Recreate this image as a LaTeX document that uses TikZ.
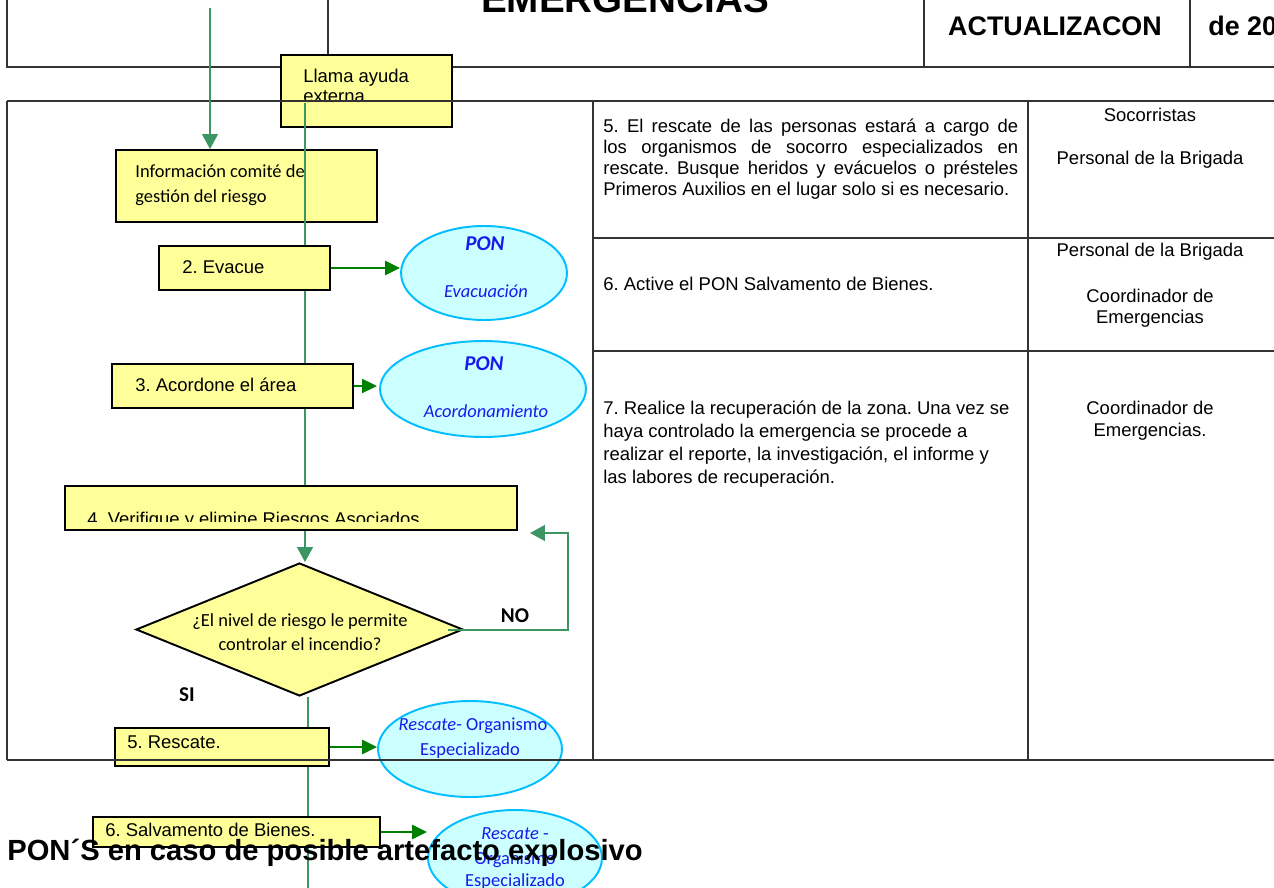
\documentclass[tikz,border=0pt]{standalone}
\usepackage{fontspec}
\setmainfont{Liberation Sans}
\newfontfamily\calib{Carlito}
\usepackage{tikz}
\usetikzlibrary{shapes.geometric,arrows.meta,fit,calc}
\definecolor{boxyellow}{RGB}{255,255,153}
\definecolor{poncyan}{RGB}{204,255,255}
\definecolor{ponedge}{RGB}{0,190,255}
\definecolor{ponblue}{RGB}{25,25,235}
\definecolor{linegreen}{RGB}{60,150,100}
\definecolor{arrgreen}{RGB}{0,128,0}
\frenchspacing

\begin{document}
\begin{tikzpicture}[x=0.02cm,y=-0.02cm,
 tabline/.style={draw=black!80,line width=0.8pt},
 stepbox/.style={draw=black,line width=1.1pt,fill=boxyellow,inner sep=0pt},
 ponell/.style={ellipse,draw=ponedge,line width=1.1pt,fill=poncyan,inner sep=0pt},
 decision/.style={diamond,draw=black,line width=1.1pt,fill=boxyellow,inner sep=0pt},
 mainline/.style={draw=linegreen,line width=1pt},
 flow/.style={mainline,-{Triangle[length=8.5pt,width=9pt]}},
 ponarrow/.style={draw=arrgreen,line width=1.2pt,-{Triangle[length=8.5pt,width=8pt]}},
 boxtxt/.style={anchor=base west,inner sep=0pt,align=flush left,font=\fontsize{10.5}{11.3}\selectfont},
 caltxt/.style={inner sep=0pt,font=\calib\fontsize{10.5}{14.2}\selectfont},
 pontxt/.style={anchor=base,inner sep=0pt,text=ponblue,font=\calib\fontsize{10.5}{12}\selectfont},
 ponbold/.style={pontxt,font=\calib\bfseries\itshape\fontsize{12}{14}\selectfont},
 ponit/.style={pontxt,font=\calib\itshape\fontsize{10.5}{12}\selectfont},
 celltxt/.style={anchor=base west,inner sep=0pt,font=\fontsize{10.5}{11.9}\selectfont},
 roletxt/.style={anchor=base,inner sep=0pt,text width=4.8cm,align=flush center,font=\fontsize{10.5}{11.9}\selectfont}]
\clip (0,0) rectangle (1274,888);

% encabezado
\draw[tabline] (7,0) -- (7,67) -- (1274,67);
\draw[tabline] (328,0) -- (328,67) (924,0) -- (924,67) (1190,0) -- (1190,67);
\node[anchor=base,inner sep=0pt,font=\bfseries\fontsize{22}{24}\selectfont] (titulo) at (625,13) {EMERGENCIAS};
\node[anchor=base,inner sep=0pt,font=\bfseries\fontsize{15.3}{17}\selectfont] (actu) at (1055,36) {ACTUALIZACON};
\node[anchor=base west,inner sep=0pt,font=\bfseries\fontsize{15.3}{17}\selectfont] (fecha) at (1208,36) {de 20};

\node[stepbox,fit={(281,55) (452,127)}] (llama) {};
\node[boxtxt,text width=3cm] (llamatxt) at (303,82.5) {Llama ayuda\\externa};

% tabla
\draw[tabline] (7,101) -- (1274,101);
\draw[tabline] (7,101) -- (7,760);
\draw[tabline] (593,101) -- (593,760) (1028,101) -- (1028,760);
\draw[tabline] (593,238) -- (1274,238) (593,351) -- (1274,351);

\node[celltxt,text width=8.3cm,align=justify] (paso5) at (603,132.5)
 {5. El rescate de las personas estará a cargo de\linebreak los organismos de socorro especializados en\linebreak rescate. Busque heridos y evácuelos o présteles\linebreak Primeros Auxilios en el lugar solo si es necesario.};
\node[celltxt] (paso6) at (603,290.5) {6. Active el PON Salvamento de Bienes.};
\node[celltxt,text width=8.3cm,align=flush left,font=\fontsize{10.5}{13}\selectfont] (paso7) at (603,414.5)
 {\mbox{7. Realice la recuperación de la zona. Una vez se}\\haya controlado la emergencia se procede a\\realizar el reporte, la investigación, el informe y\\las labores de recuperación.};
\node[roletxt] (resp5) at (1150,121.5) {Socorristas\\[12.5pt]Personal de la Brigada};
\node[roletxt] (resp6) at (1150,256.5) {Personal de la Brigada\\[14.2pt]Coordinador de\\Emergencias};
\node[roletxt,font=\fontsize{10.5}{12.5}\selectfont] (resp7) at (1150,414.5) {Coordinador de\\Emergencias.};

% flujo
\node[stepbox,fit={(116,150) (377,222)}] (info) {};
\node[caltxt,anchor=base west,text width=5cm,align=flush left] (infotxt) at (135,178) {Información comité de\\gestión del riesgo};

\coordinate (infotop) at (210,8);
\coordinate (mtop) at (305,103);
\coordinate (mbot) at (308,888);
\draw[flow] (infotop) -- (infotop |- info.north);
\draw[mainline] (mtop) -- (305,486);

\node[stepbox,fit={(159,246) (330,290)}] (evac) {};
\node[boxtxt] (evactxt) at (182,273.5) {2. Evacue};
\node[ponell,minimum width=3.32cm,minimum height=1.88cm] (evell) at (484,273) {};
\node[ponbold] at (485,251) {PON};
\node[ponit] at (486,298) {Evacuación};
\draw[ponarrow] (evac.east) -- (evac.east -| evell.west);

\node[stepbox,fit={(112,364) (353,408)}] (acord) {};
\node[boxtxt] (acordtxt) at (135,391.5) {3. Acordone el área};
\node[ponell,minimum width=4.12cm,minimum height=1.92cm] (acell) at (483,389) {};
\node[ponbold] at (484,371) {PON};
\node[ponit] at (486,418) {Acordonamiento};
\draw[ponarrow] (acord.east) -- ++(23,0);

\node[stepbox,fit={(65,486) (517,530)}] (verif) {};
\begin{scope}
 \clip (65,486) rectangle (517,521);
 \node[boxtxt] (veriftxt) at (87,525) {4. Verifique y elimine Riesgos Asociados};
\end{scope}

\node[decision,minimum width=6.54cm,minimum height=2.66cm] (dia) at (299.5,629.5) {};
\node[caltxt,anchor=base,text width=6cm,align=flush center] (diatxt) at (300,626) {¿El nivel de riesgo le permite\\controlar el incendio?};
\draw[flow] (verif.south -| mtop) -- (mtop |- dia.north);
\draw[mainline] (mbot |- dia.south) -- (mbot);

\coordinate (nostart) at (448,630);
\coordinate (noturn) at (568,533);
\coordinate (noend) at (530,533);
\draw[flow] (nostart) -| (noturn) -- (noend);
\node[anchor=base,inner sep=0pt,font=\calib\bfseries\fontsize{12}{14}\selectfont] (no) at (515,622) {NO};
\node[anchor=base,inner sep=0pt,font=\calib\bfseries\fontsize{12}{14}\selectfont] (si) at (187,701) {SI};

\node[stepbox,fit={(115,728) (329,766)}] (resc) {};
\node[boxtxt] (resctxt) at (127,748) {5. Rescate.};
\node[ponell,minimum width=3.68cm,minimum height=1.92cm] (rescell) at (470,749) {};
\node[pontxt] at (473,730) {\textit{Rescate}- Organismo};
\node[pontxt] at (470,755) {Especializado};
\draw[ponarrow] (resc.east) -- (resc.east -| rescell.west);

\node[stepbox,fit={(93,817) (380,847)}] (salv) {};
\node[boxtxt] (salvtxt) at (105,836) {6. Salvamento de Bienes.};
\node[ponell,minimum width=3.48cm,minimum height=1.92cm] (salvell) at (515,858) {};
\node[pontxt] at (515,839) {\textit{Rescate} -};
\node[pontxt] at (515,864) {Organismo};
\node[pontxt] at (515,886) {Especializado};
\draw[ponarrow] (salv.east) -- (salv.east -| salvell.west);

\draw[tabline] (7,760) -- (1274,760);
\node[anchor=base west,inner sep=0pt,font=\bfseries\fontsize{16.6}{18}\selectfont] (pons) at (7,860) {PON´S en caso de posible artefacto explosivo};
\end{tikzpicture}
\end{document}
